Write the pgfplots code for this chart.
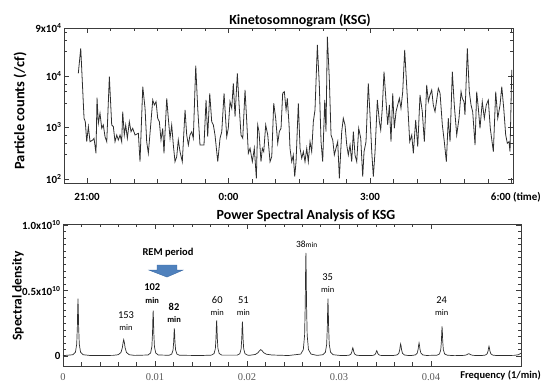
\documentclass[border=0pt]{standalone}
\usepackage{fontspec}
\setmainfont{Carlito}
\newfontfamily\serifnum{Liberation Serif}
\usepackage{pgfplots}
\pgfplotsset{compat=1.18}
\definecolor{linegray}{HTML}{2E2E2E}
\definecolor{axisgray}{HTML}{3C3C3C}
\definecolor{remblue}{HTML}{4F81BD}
\definecolor{remedge}{HTML}{3A6AA5}
\newcommand{\fsz}[1]{\fontsize{#1}{#1}\selectfont}
\begin{document}
\begin{tikzpicture}
\path[use as bounding box] (0,0) rectangle (542bp,382bp);
% ---------------- Top: Kinetosomnogram (x: minutes after 21:00, y: log10 particle counts)
\begin{axis}[
  at={(64bp,199bp)}, anchor=south west,
  scale only axis, width=449bp, height=155bp,
  xmin=-29.3, xmax=541.9, ymin=1.922, ymax=4.932,
  xtick={0,180,360,540}, xticklabels={21:00,0:00,3:00,{}},
  minor xtick={30,60,90,120,150,210,240,270,300,330,390,420,450,480,510},
  ytick={2,3,4,4.932},
  yticklabels={10\textsuperscript{2},10\textsuperscript{3},10\textsuperscript{4},9x10\textsuperscript{4}},
  minor ytick={2.477,2.699,2.845,3.477,3.699,3.845,4.477,4.699,4.845},
  tick align=inside, major tick length=5bp, minor tick length=3.5bp,
  axis line style={axisgray, line width=0.8pt},
  every tick/.style={axisgray, line width=0.6pt},
  ticklabel style={font=\bfseries\fsz{11}},
  xticklabel style={yshift=-7bp},
  yticklabel style={xshift=1bp},
]
\addplot[linegray, line width=0.8pt] table {
-11.1 4.052
-8.0 4.538
-3.8 3.179
-2.2 3.113
-0.4 2.724
1.7 3.016
3.8 2.724
7.3 2.757
8.9 2.790
11.4 2.499
12.7 3.579
14.4 3.082
16.5 3.276
18.7 2.984
20.7 3.049
22.9 2.821
25.1 2.724
28.4 3.986
31.4 3.049
33.5 3.016
35.6 2.724
37.8 2.854
39.8 2.757
42.0 2.854
44.1 2.724
45.4 3.307
47.4 2.854
49.2 3.049
51.3 2.790
53.8 3.113
56.0 2.918
58.1 2.984
61.1 2.854
65.3 2.887
67.4 2.336
70.9 3.792
73.8 3.373
75.9 2.724
78.0 2.499
81.0 3.049
83.6 3.534
85.6 3.437
87.8 3.501
89.9 3.179
92.0 3.113
94.1 2.757
96.3 2.984
97.9 2.499
101.4 3.567
103.4 3.179
105.6 2.790
107.7 3.049
109.8 2.660
111.9 2.336
114.1 2.433
116.1 2.757
118.3 2.530
121.2 2.336
124.7 3.340
126.8 2.854
128.9 2.660
131.0 2.854
133.2 2.918
135.2 2.790
138.3 4.200
140.8 3.373
143.7 2.660
146.7 2.660
148.8 2.660
151.4 3.534
153.5 2.821
156.1 3.664
158.6 3.113
160.7 3.049
162.8 2.854
166.3 2.336
169.2 2.790
171.4 2.918
174.3 3.664
177.7 2.821
179.7 2.984
181.9 3.501
184.1 3.373
186.1 3.858
188.3 3.210
191.2 4.052
193.7 3.373
195.9 2.854
198.1 2.790
201.0 3.728
203.2 3.113
205.2 2.499
207.4 2.596
210.3 2.336
212.8 2.596
215.4 2.014
217.1 3.049
218.8 2.918
221.3 2.336
223.0 2.596
224.8 2.530
227.3 3.049
229.9 2.854
232.8 2.336
235.0 2.433
237.5 3.470
240.0 3.179
242.6 2.693
244.6 2.918
246.8 2.984
248.9 3.664
251.0 3.695
253.2 3.340
254.8 3.567
257.0 3.049
258.2 2.596
260.4 2.336
262.4 2.466
264.2 2.045
265.9 2.336
268.8 3.470
271.0 2.596
273.1 2.402
275.2 2.530
277.3 2.336
279.5 2.596
281.5 2.336
283.7 2.724
285.8 2.530
287.9 3.113
290.0 3.340
293.0 4.602
295.5 3.825
297.7 2.724
299.8 2.336
302.4 3.534
304.0 2.918
305.7 4.763
308.2 3.955
310.4 2.854
312.6 2.757
314.6 2.466
316.7 2.596
318.9 2.724
321.0 2.014
324.0 2.918
326.0 3.179
328.2 3.049
330.4 2.660
332.4 2.466
334.6 2.660
336.7 2.336
338.8 2.918
340.9 2.466
343.1 2.336
345.6 2.984
348.2 2.790
350.7 2.045
352.4 2.530
354.9 2.724
357.8 3.858
360.0 3.243
362.2 2.530
364.2 2.045
366.4 2.530
369.3 3.534
371.9 3.113
373.6 2.951
375.6 3.373
377.8 4.083
380.4 3.501
382.5 3.049
384.6 3.437
386.7 2.724
388.9 3.664
390.9 2.984
393.1 3.307
395.2 3.437
397.3 3.567
399.4 3.373
401.6 3.695
404.1 4.505
408.0 3.437
410.5 2.724
413.1 2.854
415.1 2.499
418.1 3.146
420.7 2.627
423.6 3.631
426.5 3.307
429.1 2.724
432.1 3.825
434.2 3.501
436.3 3.631
438.5 3.728
440.5 3.437
442.7 3.307
444.8 3.534
446.9 3.761
449.1 3.664
452.0 3.049
454.5 2.724
457.1 2.336
459.6 3.179
461.8 2.724
464.7 4.083
467.2 3.437
470.3 2.854
473.2 3.179
475.8 3.695
477.4 3.567
479.6 3.501
480.8 3.243
483.8 4.538
486.3 3.695
488.5 3.437
490.6 3.307
493.6 2.660
495.7 3.695
497.8 3.373
499.9 2.984
502.8 3.501
505.4 3.179
507.9 3.437
510.5 3.534
513.0 2.984
516.9 2.530
519.9 3.695
522.5 3.179
525.4 3.437
527.6 3.792
530.1 3.373
532.6 2.854
534.7 2.693
536.8 2.724
538.1 2.530
540.3 4.117
};
\end{axis}
% ---------------- Bottom: power spectrum (x: 1/min, y: units of 1e10)
\begin{axis}[
  at={(63bp,16bp)}, anchor=south west,
  scale only axis, width=458bp, height=142bp,
  xmin=0, xmax=0.04978, ymin=-0.076, ymax=1.008,
  scaled x ticks=false, scaled y ticks=false,
  xtick={0,0.01,0.02,0.03,0.04}, xticklabels={0,0.01,0.02,0.03,0.04},
  minor x tick num=4,
  ytick={0,0.5,1.0},
  yticklabels={0,0.5x10\textsuperscript{10},1.0x10\textsuperscript{10}},
  minor y tick num=9,
  tick align=inside, major tick length=5bp, minor tick length=3.5bp,
  axis line style={axisgray, line width=0.8pt},
  every tick/.style={axisgray, line width=0.6pt},
  yticklabel style={font=\bfseries\fsz{11}, xshift=1bp},
  xticklabel style={font=\serifnum\fsz{10.5}, text=black!65, yshift=-4bp},
  clip=false,
]
\addplot[linegray, line width=0.7pt] table {
0 0.003
0.00107 0.010
0.00135 0.029
0.00149 0.090
0.00156 0.221
0.001595 0.351
0.00163 0.438
0.001665 0.351
0.0017 0.221
0.00177 0.090
0.00191 0.029
0.00219 0.010
0.003 0.004
0.0054 0.005
0.006 0.010
0.0063 0.027
0.00645 0.064
0.006525 0.101
0.0066 0.125
0.006675 0.101
0.00675 0.064
0.0069 0.027
0.0072 0.010
0.0078 0.005
0.00924 0.008
0.00952 0.023
0.00966 0.072
0.00973 0.175
0.009765 0.278
0.0098 0.347
0.009835 0.278
0.00987 0.175
0.00994 0.072
0.01008 0.023
0.01036 0.008
0.01154 0.006
0.01182 0.015
0.01196 0.045
0.01203 0.107
0.012065 0.169
0.0121 0.211
0.012135 0.169
0.01217 0.107
0.01224 0.045
0.01238 0.015
0.01266 0.006
0.015 0.004
0.01614 0.007
0.01642 0.019
0.01656 0.057
0.01663 0.138
0.016665 0.219
0.0167 0.273
0.016735 0.219
0.01677 0.138
0.01684 0.057
0.01698 0.019
0.01726 0.007
0.01894 0.007
0.01922 0.018
0.01936 0.055
0.01943 0.133
0.019465 0.211
0.0195 0.263
0.019535 0.211
0.01957 0.133
0.01964 0.055
0.01978 0.018
0.02006 0.007
0.0203 0.006
0.0209 0.012
0.0212 0.026
0.02135 0.040
0.0215 0.049
0.02165 0.040
0.0218 0.026
0.0221 0.014
0.0227 0.008
0.0245 0.004
0.02584 0.015
0.02612 0.049
0.02626 0.160
0.02633 0.395
0.026365 0.630
0.0264 0.787
0.026435 0.630
0.02647 0.395
0.02654 0.160
0.02668 0.049
0.02696 0.015
0.0276 0.005
0.02824 0.010
0.02852 0.029
0.02866 0.090
0.02873 0.221
0.028765 0.351
0.0288 0.438
0.028835 0.351
0.02887 0.221
0.02894 0.090
0.02908 0.029
0.02936 0.010
0.0302 0.004
0.0307 0.004
0.0311 0.0065
0.0313 0.015
0.0314 0.033
0.03145 0.051
0.0315 0.063
0.03155 0.051
0.0316 0.033
0.0317 0.015
0.0319 0.0065
0.0323 0.004
0.0333 0.0036
0.0337 0.0052
0.0339 0.0106
0.034 0.022
0.03405 0.0334
0.0341 0.041
0.03415 0.0334
0.0342 0.022
0.0343 0.0106
0.0345 0.0052
0.0349 0.0036
0.0359 0.0044
0.0363 0.0083
0.0365 0.021
0.0366 0.048
0.03665 0.075
0.0367 0.093
0.03675 0.075
0.0368 0.048
0.0369 0.021
0.0371 0.0083
0.0375 0.0044
0.0379 0.0045
0.0383 0.0087
0.0385 0.022
0.0386 0.0515
0.03865 0.0806
0.0387 0.100
0.03875 0.0806
0.0388 0.0515
0.0389 0.022
0.0391 0.0087
0.0395 0.0045
0.04064 0.0064
0.04092 0.016
0.04106 0.048
0.04113 0.115
0.041165 0.182
0.0412 0.227
0.041235 0.182
0.04127 0.115
0.04134 0.048
0.04148 0.016
0.04176 0.0064
0.0425 0.0032
0.0433 0.0039
0.0437 0.006
0.0439 0.0105
0.044 0.015
0.0441 0.018
0.0442 0.015
0.0443 0.0105
0.0445 0.006
0.0449 0.0039
0.0455 0.0041
0.0459 0.0072
0.0461 0.0172
0.0462 0.0385
0.04625 0.0598
0.0463 0.074
0.04635 0.0598
0.0464 0.0385
0.0465 0.0172
0.0467 0.0072
0.0471 0.0041
0.049 0.005
0.0495 0.010
0.04978 0.022
};
% peak annotations
\node[font=\fsz{10.5}] at (axis cs:0.00685,0.313) {153};
\node[font=\fsz{8.5}]  at (axis cs:0.00685,0.219) {min};
\node[font=\bfseries\fsz{10.5}] at (axis cs:0.0097,0.524) {102};
\node[font=\bfseries\fsz{8.5}]  at (axis cs:0.0097,0.427) {min};
\node[font=\bfseries\fsz{10.5}] at (axis cs:0.01207,0.372) {82};
\node[font=\bfseries\fsz{8.5}]  at (axis cs:0.01207,0.282) {min};
\node[font=\fsz{10.5}] at (axis cs:0.01677,0.427) {60};
\node[font=\fsz{8.5}]  at (axis cs:0.01677,0.331) {min};
\node[font=\fsz{10.5}] at (axis cs:0.0196,0.427) {51};
\node[font=\fsz{8.5}]  at (axis cs:0.0196,0.331) {min};
\node[inner sep=0pt] at (axis cs:0.02649,0.853) {{\fsz{9.5}38}{\fsz{7.5}min}};
\node[font=\fsz{10.5}] at (axis cs:0.02877,0.605) {35};
\node[font=\fsz{8.5}]  at (axis cs:0.02877,0.504) {min};
\node[font=\fsz{10.5}] at (axis cs:0.04116,0.427) {24};
\node[font=\fsz{8.5}]  at (axis cs:0.04116,0.331) {min};
\node[font=\bfseries\fsz{10.5}] at (axis cs:0.01141,0.789) {REM period};
\filldraw[fill=remblue, draw=remedge, line width=0.4pt]
  (axis cs:0.01022,0.695) -- (axis cs:0.01239,0.695) -- (axis cs:0.01239,0.656)
  -- (axis cs:0.01304,0.656) -- (axis cs:0.0113,0.603) -- (axis cs:0.00935,0.656)
  -- (axis cs:0.01022,0.656) -- cycle;
\end{axis}
% titles and axis labels
\node[anchor=base, font=\bfseries\fsz{14}] at (300bp,357bp) {Kinetosomnogram (KSG)};
\node[anchor=base, font=\bfseries\fsz{14}] at (306bp,162bp) {Power Spectral Analysis of KSG};
\node[rotate=90, font=\bfseries\fsz{14.5}] at (20bp,271bp) {Particle counts (/cf)};
\node[rotate=90, font=\bfseries\fsz{13.5}] at (18bp,86bp) {Spectral density};
\node[anchor=east, inner xsep=1bp, font=\bfseries\fsz{11}] at (542bp,184.3bp) {6:00 (time)};
\node[anchor=base east, inner xsep=1bp, font=\bfseries\fsz{10.5}] at (542bp,3.5bp) {Frequency (1/min)};
\end{tikzpicture}
\end{document}
